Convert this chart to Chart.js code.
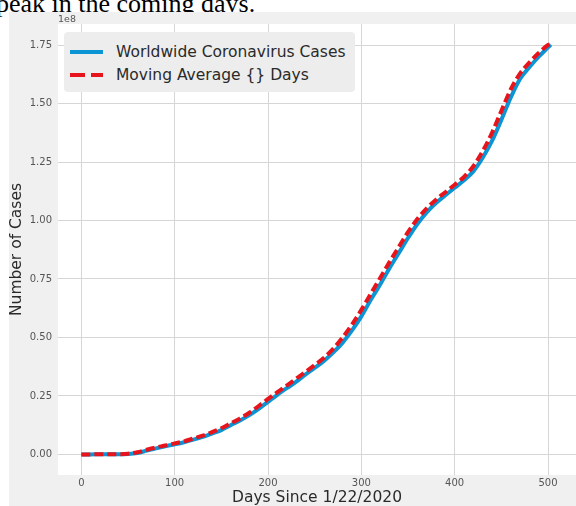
<!DOCTYPE html>
<html>
<head>
<meta charset="utf-8">
<script src="https://cdn.jsdelivr.net/npm/chart.js@4.4.0/dist/chart.umd.min.js"></script>
<style>
    html, body { margin: 0; padding: 0; background: #fff; overflow: hidden; }
    #page { position: relative; width: 576px; height: 506px; overflow: hidden; }
    .caption {
        position: absolute; left: -4px; top: -9px;
        font-family: "Liberation Serif", serif; font-size: 26px; line-height: 26px;
        color: #000; white-space: nowrap;
    }
    .figure-bg { position: absolute; left: 9px; top: 12px; right: 0; bottom: 0; background: #f0f0f0; }
    #casesChart { position: absolute; left: 0; top: 0; }
    #cases-legend-container {
        position: absolute; left: 64px; top: 32px; width: 291px; height: 60px;
        box-sizing: border-box; padding-top: 8px;
        background: #ededed; border-radius: 4px;
        font-family: "DejaVu Sans", sans-serif; font-size: 15.5px; color: #2a2a2a;
    }
    .legend-item { display: flex; align-items: center; height: 23.5px; }
    .color-box { display: inline-block; width: 33px; height: 4px; margin-left: 6px; margin-right: 13px; }
</style>
</head>
<body>
<div id="page">
    <div class="caption">peak in the coming days.</div>
    <div class="figure-bg"></div>
    <canvas id="casesChart" width="576" height="506"></canvas>
    <div id="cases-legend-container"></div>
</div>
<script>
// days since 1/22/2020
const days = [0, 10, 20, 30, 40, 50, 60, 70, 80, 90,
    100, 110, 120, 130, 140, 150, 160, 170, 180, 190,
    200, 210, 220, 230, 240, 250, 260, 270, 280, 290,
    300, 310, 320, 330, 340, 350, 360, 370, 380, 390,
    400, 410, 420, 430, 440, 450, 460, 470, 480, 490,
    500, 503];

// worldwide cases, in units of 1e8
const worldwideCases = [0, 0, 0.001, 0.001, 0.001, 0.002, 0.006, 0.016, 0.026, 0.035,
    0.043, 0.052, 0.063, 0.075, 0.089, 0.104, 0.125, 0.145, 0.168, 0.195,
    0.225, 0.255, 0.283, 0.310, 0.341, 0.370, 0.400, 0.436, 0.478, 0.530,
    0.590, 0.660, 0.725, 0.795, 0.860, 0.925, 0.985, 1.035, 1.075, 1.108,
    1.140, 1.172, 1.210, 1.268, 1.340, 1.430, 1.525, 1.605, 1.655, 1.700,
    1.740, 1.752];

// moving average, in units of 1e8
const movingAverage = [0, 0, 0.001, 0.001, 0.001, 0.003, 0.009, 0.020, 0.030, 0.038,
    0.047, 0.056, 0.068, 0.080, 0.095, 0.112, 0.133, 0.154, 0.178, 0.207,
    0.237, 0.266, 0.294, 0.323, 0.352, 0.382, 0.413, 0.452, 0.500, 0.555,
    0.618, 0.686, 0.753, 0.821, 0.886, 0.950, 1.006, 1.052, 1.089, 1.121,
    1.153, 1.186, 1.232, 1.296, 1.375, 1.468, 1.560, 1.628, 1.675, 1.716,
    1.750, 1.755];

const xTickValues = [0, 100, 200, 300, 400, 500];
const yTickValues = [0, 0.25, 0.5, 0.75, 1.0, 1.25, 1.5, 1.75];

const seriesLabels = ['Worldwide Coronavirus Cases', 'Moving Average {} Days'];
const seriesColors = ['#0b95d4', '#e8141c'];

const casesCtx = document.getElementById('casesChart').getContext('2d');
const casesLegendContainer = document.getElementById('cases-legend-container');

const tickFont = { family: 'DejaVu Sans', size: 10 };
const titleFont = { family: 'DejaVu Sans', size: 15.5, lineHeight: 1 };

// white plot background + the "1e8" offset label
const plotDecor = {
    id: 'plotDecor',
    beforeDraw(chart) {
        const a = chart.chartArea;
        const ctx = chart.ctx;
        ctx.save();
        ctx.fillStyle = '#ffffff';
        ctx.fillRect(a.left, a.top, a.right - a.left, a.bottom - a.top);
        ctx.restore();
    },
    afterDraw(chart) {
        const a = chart.chartArea;
        const ctx = chart.ctx;
        ctx.save();
        ctx.font = '9.5px "DejaVu Sans"';
        ctx.fillStyle = '#555';
        ctx.textAlign = 'left';
        ctx.textBaseline = 'alphabetic';
        ctx.fillText('1e8', a.left, a.top - 2.5);
        ctx.restore();
    }
};

const casesChart = new Chart(casesCtx, {
    type: 'line',
    data: {
        datasets: [{
            label: seriesLabels[0],
            data: days.map((d, i) => ({ x: d, y: worldwideCases[i] })),
            borderColor: seriesColors[0],
            borderWidth: 4,
            pointRadius: 0,
            cubicInterpolationMode: 'monotone',
            order: 1
        }, {
            label: seriesLabels[1],
            data: days.map((d, i) => ({ x: d, y: movingAverage[i] })),
            borderColor: seriesColors[1],
            borderWidth: 4,
            borderDash: [9, 4],
            pointRadius: 0,
            cubicInterpolationMode: 'monotone',
            order: 0
        }]
    },
    options: {
        responsive: false,
        devicePixelRatio: 1,
        animation: false,
        layout: { padding: { left: 0, top: 24, right: 0, bottom: 0 } },
        plugins: {
            legend: { display: false },
            tooltip: { enabled: false }
        },
        scales: {
            x: {
                type: 'linear',
                min: -25,
                max: 530,
                afterBuildTicks: function(axis) {
                    axis.ticks = xTickValues.map(v => ({ value: v }));
                },
                afterFit: function(axis) {
                    axis.height = 31;
                },
                grid: { color: '#d6d6d6', lineWidth: 1, drawTicks: false },
                border: { display: false },
                ticks: {
                    font: tickFont,
                    color: '#555',
                    padding: 2,
                    maxRotation: 0,
                    callback: function(value) { return String(value); }
                },
                title: {
                    display: true,
                    text: 'Days Since 1/22/2020',
                    font: titleFont,
                    color: '#2a2a2a',
                    padding: { top: 0, bottom: 0.5 }
                }
            },
            y: {
                min: -0.088,
                max: 1.84,
                afterBuildTicks: function(axis) {
                    axis.ticks = yTickValues.map(v => ({ value: v }));
                },
                afterFit: function(axis) {
                    axis.width = 58;
                },
                grid: { color: '#d6d6d6', lineWidth: 1, drawTicks: false },
                border: { display: false },
                ticks: {
                    font: tickFont,
                    color: '#555',
                    padding: 6,
                    callback: function(value) { return Number(value).toFixed(2); }
                },
                title: {
                    display: true,
                    text: 'Number of Cases',
                    font: titleFont,
                    color: '#2a2a2a',
                    padding: { top: 9, bottom: 0 }
                }
            }
        }
    },
    plugins: [plotDecor]
});

function createCasesLegend() {
    casesLegendContainer.innerHTML = '';

    casesChart.data.datasets.forEach(ds => {
        const legendItem = document.createElement('div');
        legendItem.classList.add('legend-item');

        const colorBox = document.createElement('span');
        colorBox.classList.add('color-box');
        if (ds.borderDash) {
            colorBox.style.background = 'repeating-linear-gradient(to right, ' + ds.borderColor +
                ' 0 15px, transparent 15px 21px)';
        } else {
            colorBox.style.backgroundColor = ds.borderColor;
        }

        const labelSpan = document.createElement('span');
        labelSpan.classList.add('legend-label');
        labelSpan.textContent = ds.label;

        legendItem.appendChild(colorBox);
        legendItem.appendChild(labelSpan);
        casesLegendContainer.appendChild(legendItem);
    });
}

createCasesLegend();
</script>
</body>
</html>
